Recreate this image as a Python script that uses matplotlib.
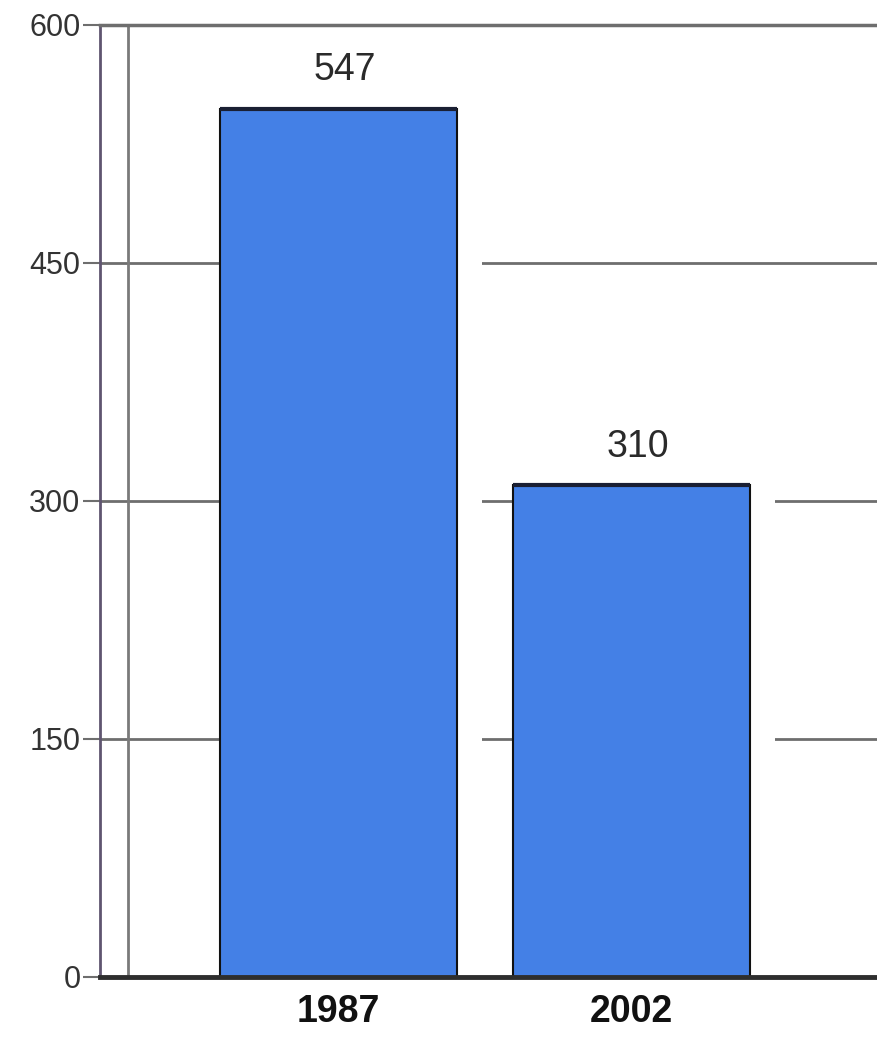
import matplotlib.pyplot as plt
import numpy as np

# data
years = ["1987", "2002"]
values = [547, 310]
y_ticks = [0, 150, 300, 450, 600]

FONT = ["Liberation Sans Narrow", "Liberation Sans", "DejaVu Sans"]
BAR_COLOR = "#4480e6"
GRID_COLOR = "#6e6e6e"

fig = plt.figure(figsize=(8.78, 10.38), dpi=100)
ax = fig.add_axes([100 / 878, 61 / 1038, 778 / 878, 952 / 1038])

x = np.arange(len(years))
width = 0.81

# grid lines sit behind the bars
for t in y_ticks[1:]:
    ax.axhline(t, color=GRID_COLOR, lw=2, zorder=0)

# white halo on the right side of each bar (scan shadow)
ax.bar(x - width / 2, values, width=width + 0.085, align="edge",
       color="white", zorder=1)
bars = ax.bar(x, values, width=width, color=BAR_COLOR,
              edgecolor="#111111", linewidth=1.5, zorder=2)
# thicker dark top edge
for b in bars:
    ax.plot([b.get_x(), b.get_x() + b.get_width()], [b.get_height()] * 2,
            color="#1a1f33", lw=3, zorder=3, solid_capstyle="butt")

for xi, v in zip(x, values):
    ax.text(xi + 0.02, v + 13, str(v), ha="center", va="bottom",
            fontsize=27, family=FONT, color="#2a2a2a")

ax.set_xlim(-0.814, 1.841)
ax.set_ylim(0, 600)

# second vertical rule just inside the axis
ax.axvline(-0.718, color="#7a7a7a", lw=2, zorder=1)

ax.set_yticks(y_ticks)
ax.set_yticklabels([str(t) for t in y_ticks], family=FONT, fontsize=22,
                   color="#333333")
ax.tick_params(axis="y", length=12, width=1.5, color=GRID_COLOR, pad=2)

ax.set_xticks(x)
ax.set_xticklabels(years, family=FONT, fontsize=27, fontweight="bold",
                   color="#111111")
ax.tick_params(axis="x", length=0, pad=12)

ax.spines["right"].set_visible(False)
ax.spines["top"].set_color(GRID_COLOR)
ax.spines["top"].set_linewidth(2.5)
ax.spines["left"].set_color("#5f5570")
ax.spines["left"].set_linewidth(2)
ax.spines["bottom"].set_color("#2e2e2e")
ax.spines["bottom"].set_linewidth(3.5)
ax.spines["bottom"].set_zorder(4)

fig.savefig("out.png", dpi=100)
